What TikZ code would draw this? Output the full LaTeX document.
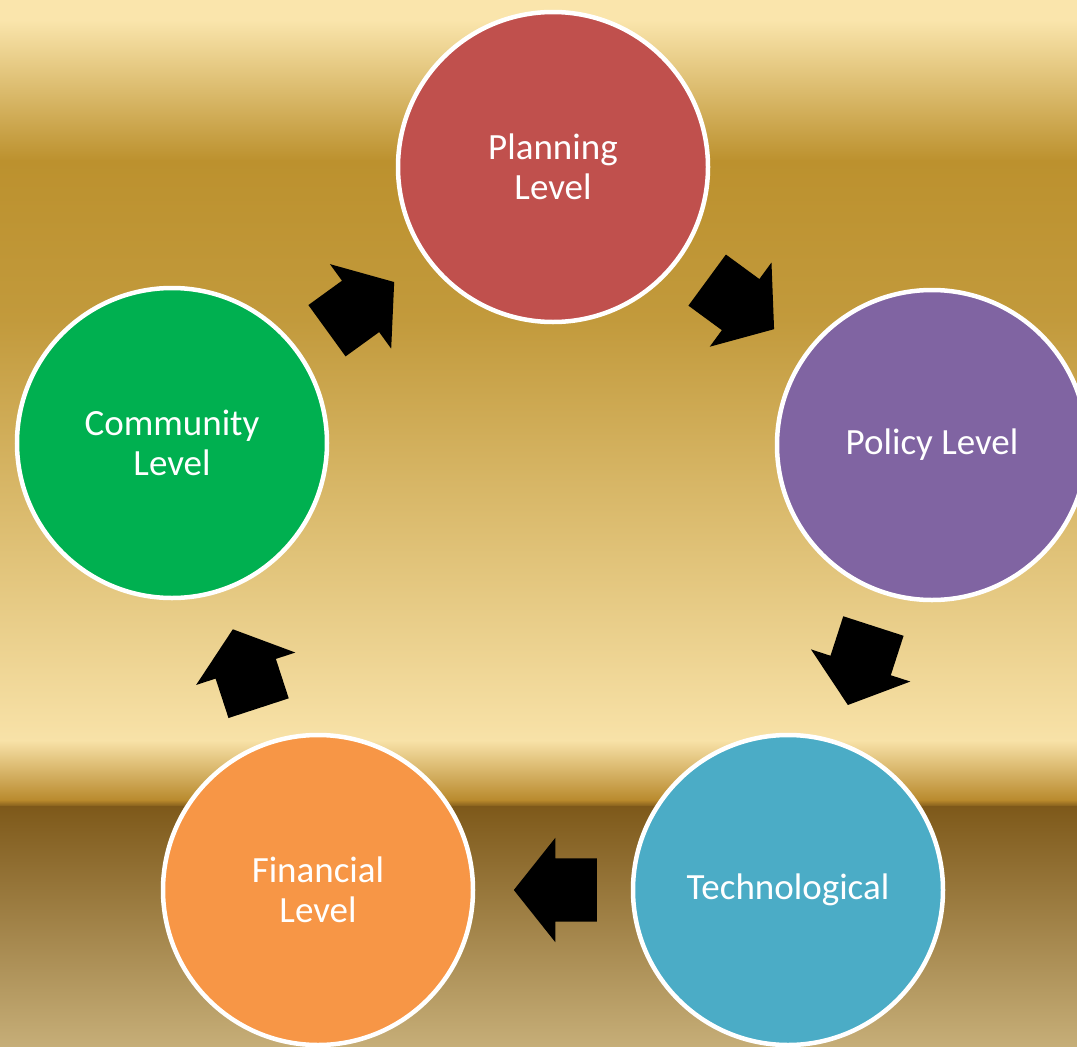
\documentclass[tikz,border=0pt]{standalone}
\usepackage{fontspec}
\setmainfont{Carlito}
\usepackage{xcolor}
\usetikzlibrary{shapes.arrows}

\definecolor{bglight}{HTML}{FAE5AC}
\definecolor{bggold}{HTML}{BC912E}
\definecolor{bggoldb}{HTML}{C29A3C}
\definecolor{bglightb}{HTML}{F8E2A8}
\definecolor{bgstripe}{HTML}{B8892C}
\definecolor{bgbrown}{HTML}{7E591A}
\definecolor{bgtan}{HTML}{C6AE78}
\definecolor{planred}{HTML}{C0504D}
\definecolor{polpurple}{HTML}{8064A2}
\definecolor{techblue}{HTML}{4BACC6}
\definecolor{finorange}{HTML}{F79646}
\definecolor{commgreen}{HTML}{00B050}

\begin{document}
\begin{tikzpicture}
[x=1pt,y=-1pt,
 lvl/.style={circle,minimum size=310pt,inner sep=0pt,draw=white,line width=4.5pt,
   text=white,align=center,font=\fontsize{37}{40}\selectfont},
 blockarr/.style={single arrow,fill=black,draw=none,inner xsep=0pt,inner ysep=31.5pt,
   minimum height=83pt,single arrow head extend=20.5pt,single arrow tip angle=103,
   pos=0.404,sloped,allow upside down}]

\useasboundingbox (0,0) rectangle (1077,1047);
\foreach \ya/\yb/\ca/\cb in {0/21/bglight/bglight, 20/161/bglight/bggold,
    160/321/bggold/bggoldb, 320/741/bggoldb/bglightb, 740/801/bglightb/bgstripe,
    800/807/bgstripe/bgbrown, 806/1047/bgbrown/bgtan}
  \shade[top color=\ca,bottom color=\cb] (-1,\ya) rectangle (1078,\yb); %background

\node[lvl,fill=planred] (plan) at (553,167) {Planning\\Level};
\node[lvl,fill=polpurple] (pol) at (932,445) {Policy Level};
\node[lvl,fill=techblue] (tech) at (788,890) {Technological};
\node[lvl,fill=finorange] (fin) at (318,890) {Financial\\Level};
\node[lvl,fill=commgreen] (comm) at (172,443) {Community\\Level};

\path (comm) -- (plan) node[blockarr] {};
\path (plan) -- (pol) node[blockarr] {};
\path (pol) -- (tech) node[blockarr] {};
\path (tech) -- (fin) node[blockarr] {};
\path (fin) -- (comm) node[blockarr] {};
\end{tikzpicture}
\end{document}
